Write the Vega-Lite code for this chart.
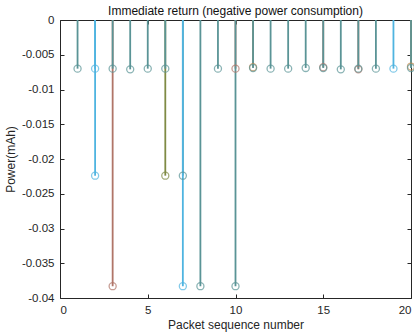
{
  "$schema": "https://vega.github.io/schema/vega-lite/v6.json",
  "width": 351,
  "height": 278,
  "autosize": {"type": "none"},
  "padding": {"left": 60, "top": 20, "right": 3, "bottom": 37},
  "background": "white",
  "config": {
    "view": {"stroke": null},
    "font": "Liberation Sans",
    "axis": {"grid": false, "domainColor": "#262626", "tickColor": "#262626", "labelColor": "#262626", "titleColor": "#262626", "labelFontSize": 11.5, "titleFontSize": 12, "titleFontWeight": "normal", "tickSize": -4, "domainWidth": 1, "tickWidth": 1}
  },
  "title": {"text": "Immediate return (negative power consumption)", "fontSize": 12, "fontWeight": "normal", "color": "#111111", "offset": -4, "font": "Liberation Sans"},
  "data": {"values": [
    {"x": 1, "v": -0.007, "s": "teal"},
    {"x": 2, "v": -0.0224, "s": "lightblue"},
    {"x": 2, "v": -0.007, "s": "lightblue"},
    {"x": 3, "v": -0.0383, "s": "brown"},
    {"x": 3, "v": -0.007, "s": "teal"},
    {"x": 4, "v": -0.0071, "s": "teal"},
    {"x": 5, "v": -0.007, "s": "teal"},
    {"x": 6, "v": -0.0224, "s": "olive"},
    {"x": 6, "v": -0.007, "s": "teal"},
    {"x": 7, "v": -0.0224, "s": "teal"},
    {"x": 7, "v": -0.0383, "s": "lightblue"},
    {"x": 8, "v": -0.0383, "s": "teal"},
    {"x": 9, "v": -0.007, "s": "teal"},
    {"x": 10, "v": -0.007, "s": "brown"},
    {"x": 10, "v": -0.0383, "s": "teal"},
    {"x": 11, "v": -0.0068, "s": "orange"},
    {"x": 11, "v": -0.0069, "s": "teal"},
    {"x": 12, "v": -0.007, "s": "teal"},
    {"x": 13, "v": -0.007, "s": "teal"},
    {"x": 14, "v": -0.0069, "s": "teal"},
    {"x": 15, "v": -0.0068, "s": "brown"},
    {"x": 15, "v": -0.0069, "s": "teal"},
    {"x": 16, "v": -0.0071, "s": "teal"},
    {"x": 17, "v": -0.0071, "s": "brown"},
    {"x": 17, "v": -0.007, "s": "teal"},
    {"x": 18, "v": -0.007, "s": "teal"},
    {"x": 19, "v": -0.007, "s": "lightblue"},
    {"x": 20, "v": -0.0067, "s": "orange"},
    {"x": 20, "v": -0.0069, "s": "teal"}
  ]},
  "layer": [
    {
      "mark": {"type": "rule", "strokeWidth": 1.8},
      "encoding": {
        "x": {"field": "x", "type": "quantitative", "scale": {"domain": [0, 20], "nice": false, "zero": false}, "axis": {"orient": "bottom", "values": [0, 5, 10, 15, 20], "title": "Packet sequence number", "titlePadding": 4, "labelPadding": 10}},
        "y": {"field": "v", "type": "quantitative", "scale": {"domain": [-0.04, 0], "nice": false}, "axis": {"orient": "left", "values": [0, -0.005, -0.01, -0.015, -0.02, -0.025, -0.03, -0.035, -0.04], "labelExpr": "datum.value == 0 ? '0' : '-' + format(abs(datum.value), '~g')", "title": "Power(mAh)", "titlePadding": 4, "labelPadding": 10}},
        "y2": {"datum": 0},
        "color": {"field": "s", "type": "nominal", "scale": {"domain": ["teal", "lightblue", "brown", "olive", "orange"], "range": ["#5a9496", "#4fb4e0", "#b07568", "#7f8a44", "#c28a4e"]}, "legend": null}
      }
    },
    {
      "mark": {"type": "point", "shape": "circle", "filled": false, "size": 50, "strokeWidth": 1.3},
      "encoding": {
        "x": {"field": "x", "type": "quantitative", "axis": {"orient": "top", "values": [0, 5, 10, 15, 20], "labels": false, "title": null}},
        "y": {"field": "v", "type": "quantitative", "axis": {"orient": "right", "values": [0, -0.005, -0.01, -0.015, -0.02, -0.025, -0.03, -0.035, -0.04], "labels": false, "title": null}},
        "color": {"field": "s", "type": "nominal", "legend": null}
      }
    }
  ],
  "resolve": {"axis": {"x": "independent", "y": "independent"}}
}
